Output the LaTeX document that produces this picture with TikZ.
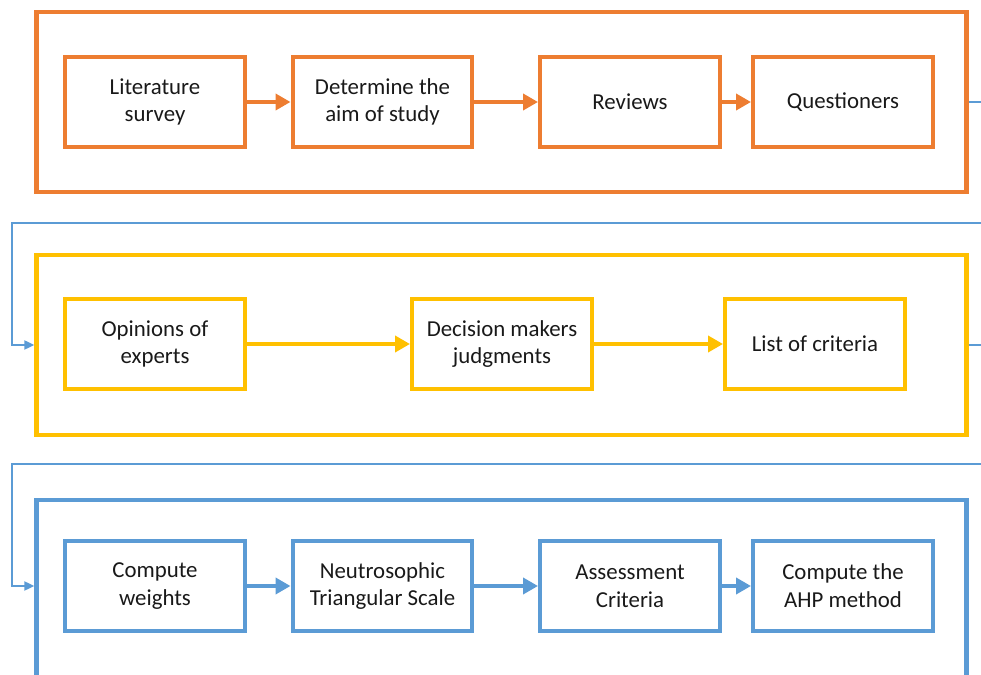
\documentclass[tikz,border=0pt]{standalone}
\usepackage{fontspec}
\setmainfont{Carlito}
\usetikzlibrary{arrows.meta}
\definecolor{florange}{RGB}{237,125,49}
\definecolor{flyellow}{RGB}{255,192,0}
\definecolor{flblue}{RGB}{91,155,213}
\begin{document}
\begin{tikzpicture}[x=.02cm,y=-.02cm,font=\fontsize{13}{15.8}\selectfont,
    stage/.style={draw=#1,line width=.09cm,minimum width=18.6cm,minimum height=3.6cm},
    task/.style={draw=#1,line width=.08cm,minimum width=3.6cm,minimum height=1.8cm,
      inner sep=2pt,align=center,text=black!90},
    flow/.style={draw=#1,line width=.08cm,-{Triangle[length=.3cm,width=.32cm]}},
    link/.style={draw=flblue,line width=.04cm,-{Triangle[length=.2cm,width=.18cm]}}]
    \clip (0,0) rectangle (981,675);
    % outer stages
    \node[stage=florange] (outA) at (501.5,102) {};
    \node[stage=flyellow] (outB) at (501.5,345) {};
    \node[stage=flblue]   (outC) at (501.5,590) {};
    % first row
    \node[task=florange] (lit) at (155,102)   {Literature\\survey};
    \node[task=florange] (aim) at (382.5,102) {Determine the\\aim of study};
    \node[task=florange] (rev) at (630,102)   {Reviews};
    \node[task=florange] (que) at (843,102)   {Questioners};
    \draw[flow=florange] (lit) -- (aim);
    \draw[flow=florange] (aim) -- (rev);
    \draw[flow=florange] (rev) -- (que);
    % second row
    \node[task=flyellow] (opi) at (155,344) {Opinions of\\experts};
    \node[task=flyellow] (dec) at (502,344) {Decision makers\\judgments};
    \node[task=flyellow] (lis) at (815,344) {List of criteria};
    \draw[flow=flyellow] (opi) -- (dec);
    \draw[flow=flyellow] (dec) -- (lis);
    % third row
    \node[task=flblue] (wei) at (155,586)   {Compute\\weights};
    \node[task=flblue] (neu) at (382.5,586) {Neutrosophic\\Triangular Scale};
    \node[task=flblue] (ass) at (630,586)   {Assessment\\Criteria};
    \node[task=flblue] (ahp) at (843,586)   {Compute the\\AHP method};
    \draw[flow=flblue] (wei) -- (neu);
    \draw[flow=flblue] (neu) -- (ass);
    \draw[flow=flblue] (ass) -- (ahp);
    % links between stages
    \coordinate (turnA) at (12,223);
    \coordinate (turnB) at (12,464);
    \draw[link] (outA.east) -- ++(25,0) |- (turnA) |- (outB.west);
    \draw[link] (outB.east) -- ++(25,0) |- (turnB) |- (outC.west |- wei);
\end{tikzpicture}
\end{document}
